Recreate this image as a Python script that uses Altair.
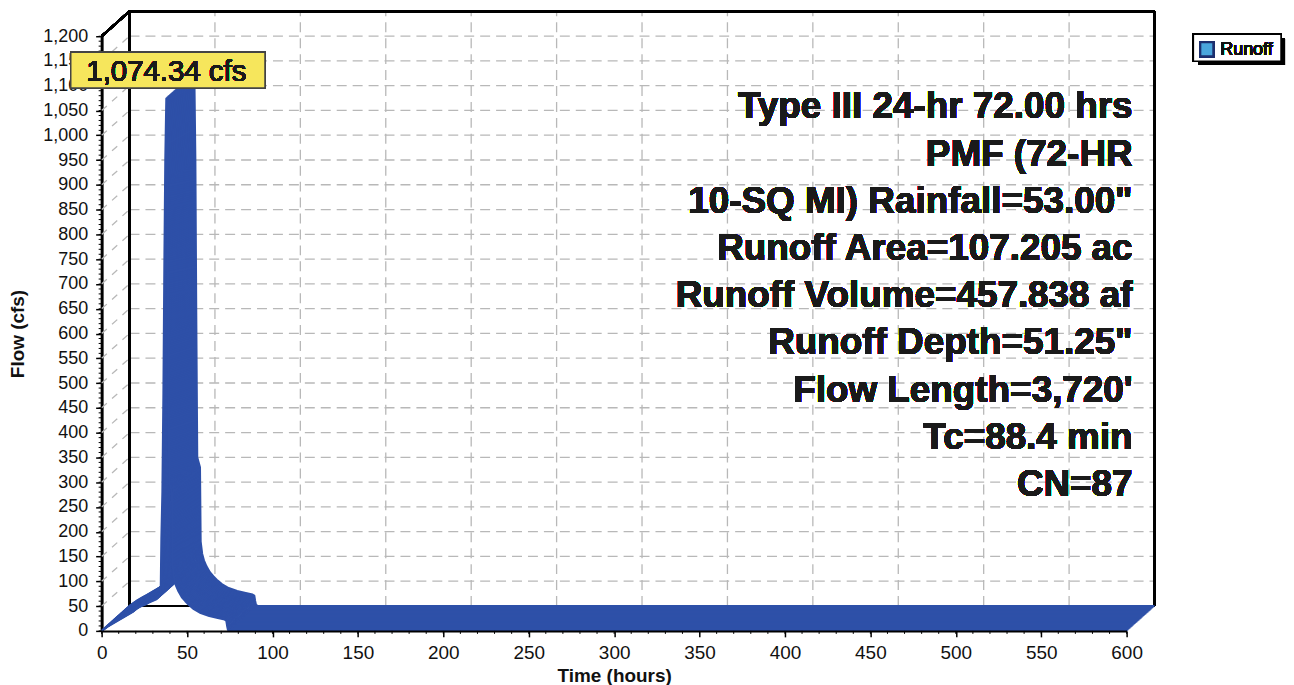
import altair as alt
import pandas as pd

# ---------------- data ----------------
time_hr = [0, 2, 4, 6, 8, 10, 12, 14, 16, 18, 20, 22, 24, 26, 28, 30, 32, 33, 34, 34.6,
           35.0, 35.6, 36.2, 36.8, 37.3, 37.9, 38.5, 39.0, 39.6, 40.4,
           41.2, 41.6, 42.5, 43.5, 45, 47, 49, 51, 54, 58,
           63, 68, 72, 73, 73.5, 74, 75, 600]
flow_cfs = [0, 5, 10, 14, 18, 22, 26, 30, 34, 38, 44, 48, 51, 54, 58, 61, 64, 68, 72, 76,
            185, 280, 480, 760, 950, 1074.34, 900, 600, 300, 290,
            280, 130, 105, 92, 80, 68, 60, 53, 44, 36,
            30, 26, 23, 21, 10, 2, 0, 0]

x_ticks = list(range(0, 601, 50))
y_ticks = list(range(0, 1201, 50))
x_minor = list(range(0, 601, 10))
y_minor = list(range(0, 1201, 10))
back_grid_x = list(range(50, 551, 50))
back_grid_y = list(range(50, 1151, 50))

info_lines = [
    "Type III 24-hr 72.00 hrs",
    "PMF (72-HR",
    "10-SQ MI) Rainfall=53.00\"",
    "Runoff Area=107.205 ac",
    "Runoff Volume=457.838 af",
    "Runoff Depth=51.25\"",
    "Flow Length=3,720'",
    "Tc=88.4 min",
    "CN=87",
]
series_name = "Runoff"
peak_flow = max(flow_cfs)

# ---------------- styling / layout ----------------
FONT = "Liberation Sans"
BLUE = "#2e50a8"
GRID = "#b8b8b8"
W, H = 1029, 597
DX, DY = 28, -25          # 3-D depth offset in pixels

xs = alt.Scale(domain=[0, 600], nice=False, zero=False)
ys = alt.Scale(domain=[0, 1200], nice=False, zero=False)

xaxis = alt.Axis(values=x_ticks, format="d", title="Time (hours)", grid=False,
                 domainColor="black", domainWidth=2, tickColor="black", tickWidth=1.5,
                 tickSize=6, labelFont=FONT, labelFontSize=19, labelColor="#111",
                 labelPadding=7, labelFlush=False, labelOverlap=False, labelBound=False,
                 titleFont=FONT, titleFontSize=19, titleFontWeight="bold",
                 titleColor="#111", titlePadding=4, zindex=1)
yaxis = alt.Axis(values=y_ticks, format=",d", title="Flow (cfs)", grid=False,
                 domainColor="black", domainWidth=3, tickColor="black", tickWidth=1.5,
                 tickSize=6, labelFont=FONT, labelFontSize=18, labelColor="#111",
                 labelPadding=8, labelFlush=False, labelOverlap=False, labelBound=False,
                 titleFont=FONT, titleFontSize=19, titleFontWeight="bold",
                 titleColor="#111", titlePadding=15, zindex=0)


def X(field=None, datum=None):
    if datum is not None:
        return alt.X(datum=datum, type="quantitative", scale=xs, axis=xaxis)
    return alt.X(field, type="quantitative", scale=xs, axis=xaxis)


def Y(field=None, datum=None):
    if datum is not None:
        return alt.Y(datum=datum, type="quantitative", scale=ys, axis=yaxis)
    return alt.Y(field, type="quantitative", scale=ys, axis=yaxis)


df = pd.DataFrame({"t": time_hr, "q": flow_cfs})
gx = pd.DataFrame({"t": back_grid_x})
gy = pd.DataFrame({"q": back_grid_y})
mx = pd.DataFrame({"t": x_minor})
my = pd.DataFrame({"q": y_minor})

layers = []

# back-wall grid (dashed)
layers.append(alt.Chart(gx).mark_rule(color=GRID, strokeWidth=1.3, strokeDash=[10, 6],
                                      xOffset=DX, yOffset=DY, y2Offset=DY)
              .encode(x=X("t"), y=Y(datum=0), y2=alt.Y2(datum=1200)))
layers.append(alt.Chart(gy).mark_rule(color=GRID, strokeWidth=1.3, strokeDash=[10, 6],
                                      xOffset=DX, x2Offset=DX, yOffset=DY)
              .encode(x=X(datum=0), x2=alt.X2(datum=600), y=Y("q")))
# side-wall grid (diagonal dashes)
layers.append(alt.Chart(gy).mark_rule(color=GRID, strokeWidth=1.3, strokeDash=[7, 7],
                                      x2Offset=DX, y2Offset=DY)
              .encode(x=X(datum=0), x2=alt.X2(datum=0), y=Y("q"), y2=alt.Y2("q")))

# frame of the 3-D box
frame_style = dict(color="black", strokeWidth=2)
layers.append(alt.Chart(df).mark_rule(xOffset=DX, yOffset=DY, y2Offset=DY, **frame_style)
              .encode(x=X(datum=0), y=Y(datum=0), y2=alt.Y2(datum=1200)))
layers.append(alt.Chart(df).mark_rule(xOffset=DX, yOffset=DY, y2Offset=DY, **frame_style)
              .encode(x=X(datum=600), y=Y(datum=0), y2=alt.Y2(datum=1200)))
layers.append(alt.Chart(df).mark_rule(xOffset=DX, x2Offset=DX, yOffset=DY, **frame_style)
              .encode(x=X(datum=0), x2=alt.X2(datum=600), y=Y(datum=1200)))
layers.append(alt.Chart(df).mark_rule(xOffset=DX, x2Offset=DX, yOffset=DY, **frame_style)
              .encode(x=X(datum=0), x2=alt.X2(datum=600), y=Y(datum=0)))
layers.append(alt.Chart(df).mark_rule(x2Offset=DX, y2Offset=DY, **frame_style)
              .encode(x=X(datum=0), x2=alt.X2(datum=0), y=Y(datum=1200), y2=alt.Y2(datum=1200)))

# 3-D ribbon of the hydrograph: the line swept through the depth
for k in range(DX, -1, -1):
    layers.append(alt.Chart(df).mark_line(color=BLUE, strokeWidth=2.2, strokeJoin="round",
                                          xOffset=k, yOffset=DY * k / DX)
                  .encode(x=X("t"), y=Y("q"), order="t:Q"))

# minor ticks
layers.append(alt.Chart(my).mark_rule(color="black", strokeWidth=1, x2Offset=-3)
              .encode(x=X(datum=0), x2=alt.X2(datum=0), y=Y("q")))
layers.append(alt.Chart(mx).mark_rule(color="black", strokeWidth=1, y2Offset=3)
              .encode(x=X("t"), y=Y(datum=0), y2=alt.Y2(datum=0)))

# info text block
for i, line in enumerate(info_lines):
    layers.append(alt.Chart(df).mark_text(text=line, font=FONT, fontSize=37, fontWeight="bold",
                                          color="#1a1a1a", align="right", baseline="alphabetic")
                  .encode(x=alt.value(1035), y=alt.value(82.5 + 47.4 * i)))

# peak tooltip box
layers.append(alt.Chart(df).mark_rect(fill="#f6e65c", stroke="#444", strokeWidth=1.5)
              .encode(x=alt.value(-31), x2=alt.value(164), y=alt.value(16), y2=alt.value(52)))
layers.append(alt.Chart(df).mark_text(text=f"{peak_flow:,.2f} cfs", font=FONT, fontSize=29.5,
                                      color="#1a1a1a", align="center", baseline="alphabetic")
              .encode(x=alt.value(65), y=alt.value(45)))

# legend
layers.append(alt.Chart(df).mark_rect(fill="black")
              .encode(x=alt.value(1101), x2=alt.value(1188), y=alt.value(2), y2=alt.value(29)))
layers.append(alt.Chart(df).mark_rect(fill="white", stroke="black", strokeWidth=1.5)
              .encode(x=alt.value(1096), x2=alt.value(1184), y=alt.value(-2), y2=alt.value(25)))
layers.append(alt.Chart(df).mark_rect(fill="#4aa6dc", stroke="#1d2f6e", strokeWidth=2)
              .encode(x=alt.value(1103), x2=alt.value(1116), y=alt.value(6), y2=alt.value(20)))
layers.append(alt.Chart(df).mark_text(text=series_name, font=FONT, fontSize=18, color="#111",
                                      align="left", baseline="alphabetic")
              .encode(x=alt.value(1123), y=alt.value(19)))

chart = alt.layer(*layers).properties(
    width=W, height=H,
    autosize=alt.AutoSizeParams(type="none"),
    padding={"left": 94, "top": 27, "right": 160, "bottom": 56},
    background="white",
).configure_view(stroke=None)

chart.save("out.html", embed_options={"renderer": "svg", "actions": False})
